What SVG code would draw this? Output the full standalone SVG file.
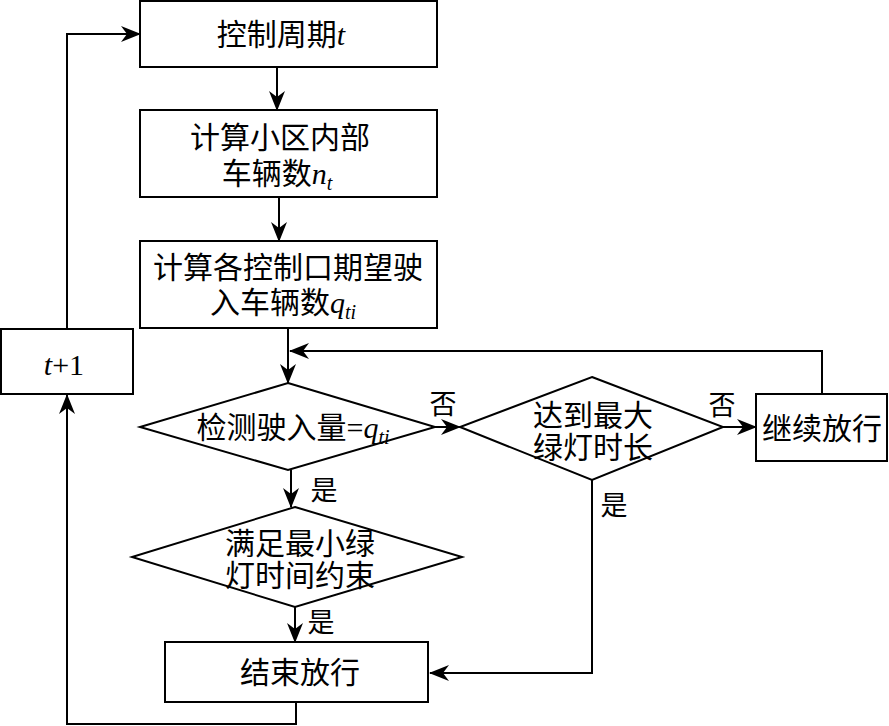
<svg xmlns="http://www.w3.org/2000/svg" width="889" height="726" viewBox="0 0 889 726">
<style>
.box{fill:#fff;stroke:#000;stroke-width:2}
.t{font-family:"Liberation Serif","Noto Sans CJK SC",serif;font-size:30px;fill:#000;text-anchor:middle}
.lbl{font-family:"Liberation Serif","Noto Sans CJK SC",serif;font-size:27px;fill:#000;text-anchor:middle}
.i{font-style:italic;font-family:"Liberation Serif",serif}
.c{fill:none;stroke:#000;stroke-width:2}
</style>
<defs>
<marker id="ah" viewBox="0 0 20 16" refX="19" refY="8" markerWidth="20" markerHeight="16" markerUnits="userSpaceOnUse" orient="auto">
<path d="M0,0 L20,8 L0,16 L6,8 z" fill="#000"/>
</marker>
</defs>
<rect width="889" height="726" fill="#fff"/>
<g id="connectors">
<path class="c" d="M277,67 V110" marker-end="url(#ah)"/>
<path class="c" d="M279,197 V241" marker-end="url(#ah)"/>
<path class="c" d="M288,328 V383" marker-end="url(#ah)"/>
<path class="c" d="M822,394 V351 H290" marker-end="url(#ah)"/>
<path class="c" d="M435,427 H460" marker-end="url(#ah)"/>
<path class="c" d="M723,427 H756" marker-end="url(#ah)"/>
<path class="c" d="M291,470 V507" marker-end="url(#ah)"/>
<path class="c" d="M295,607 V642" marker-end="url(#ah)"/>
<path class="c" d="M592,480 V673 H430" marker-end="url(#ah)"/>
<path class="c" d="M296,702 V724 H67 V395" marker-end="url(#ah)"/>
<path class="c" d="M67,329 V34 H140" marker-end="url(#ah)"/>
<text class="lbl" x="443" y="414">否</text>
<text class="lbl" x="722" y="415">否</text>
<text class="lbl" x="324" y="500">是</text>
<text class="lbl" x="321" y="632">是</text>
<text class="lbl" x="614" y="515">是</text>
</g>
<g id="n1">
<rect class="box" x="140" y="1" width="297" height="66"/>
<text class="t" x="281" y="45">控制周期<tspan class="i">t</tspan></text>
</g>
<g id="n2">
<rect class="box" x="140" y="110" width="297" height="87"/>
<text class="t" x="280" y="148">计算小区内部</text>
<text class="t" x="277" y="184">车辆数<tspan class="i">n</tspan><tspan class="i" font-size="20" dy="6">t</tspan></text>
</g>
<g id="n3">
<rect class="box" x="140" y="241" width="297" height="87"/>
<text class="t" x="288" y="278">计算各控制口期望驶</text>
<text class="t" x="283" y="313">入车辆数<tspan class="i">q</tspan><tspan class="i" font-size="20" dy="6">ti</tspan></text>
</g>
<g id="n4">
<rect class="box" x="1" y="329" width="132" height="65"/>
<text class="t" x="64" y="375"><tspan class="i">t</tspan>+1</text>
</g>
<g id="d1">
<polygon class="box" points="288,383 435,427 288,470 140,427"/>
<text class="t" x="293" y="438">检测驶入量=<tspan class="i">q</tspan><tspan class="i" font-size="20" dy="6">ti</tspan></text>
</g>
<g id="d2">
<polygon class="box" points="592,377 723,427 592,480 460,427"/>
<text class="t" x="593" y="426">达到最大</text>
<text class="t" x="593" y="458">绿灯时长</text>
</g>
<g id="n5">
<rect class="box" x="756" y="394" width="131" height="67"/>
<text class="t" x="822" y="439">继续放行</text>
</g>
<g id="d3">
<polygon class="box" points="295,507 462,557 295,607 132,557"/>
<text class="t" x="300" y="554">满足最小绿</text>
<text class="t" x="300" y="586">灯时间约束</text>
</g>
<g id="n6">
<rect class="box" x="165" y="642" width="263" height="60"/>
<text class="t" x="300" y="683">结束放行</text>
</g>
</svg>
